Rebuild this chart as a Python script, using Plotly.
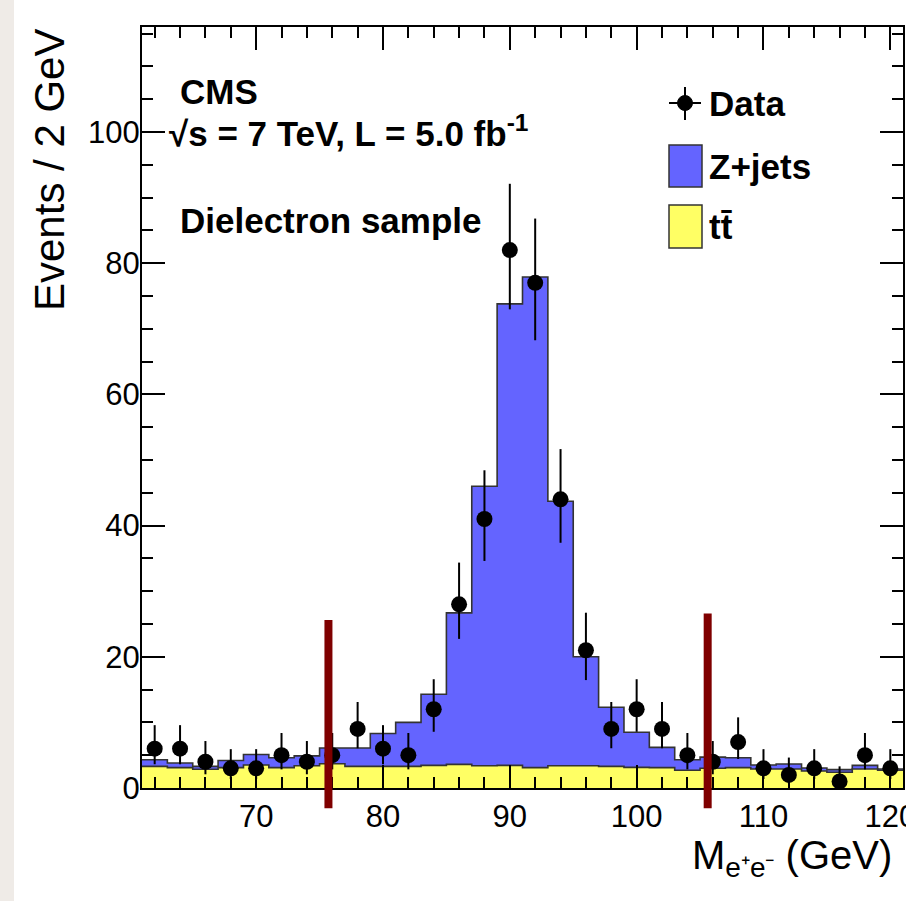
import plotly.graph_objects as go

# ---------------- data ----------------
bin_lo = [61, 63, 65, 67, 69, 71, 73, 75, 77, 79, 81, 83, 85, 87, 89,
          91, 93, 95, 97, 99, 101, 103, 105, 107, 109, 111, 113, 115, 117, 119]
bin_width = 2
mass_centers = [62, 64, 66, 68, 70, 72, 74, 76, 78, 80, 82, 84, 86, 88, 90,
                92, 94, 96, 98, 100, 102, 104, 106, 108, 110, 112, 114, 116, 118, 120]

ttbar = [3.3, 3.1, 2.85, 3.1, 3.5, 3.1, 3.4, 3.7, 3.3, 3.3,
         3.3, 3.45, 3.6, 3.4, 3.45, 3.1, 3.4, 3.4, 3.3, 3.15,
         3.1, 2.7, 3.0, 3.1, 2.9, 2.9, 2.6, 2.4, 2.9, 2.7]
zjets = [1.0, 0.7, 0.45, 1.1, 1.6, 1.5, 1.5, 2.4, 2.8, 5.0,
         6.7, 10.85, 23.1, 42.6, 70.35, 74.8, 40.3, 16.6, 9.0, 5.35,
         3.1, 1.6, 1.7, 1.5, 0.6, 0.75, 0.45, 0.4, 0.55, 0.2]
data = [6, 6, 4, 3, 3, 5, 4, 5, 9, 6,
        5, 12, 28, 41, 82, 77, 44, 21, 9, 12,
        9, 5, 4, 7, 3, 2, 3, 1, 5, 3]
err_up = [3.58, 3.58, 3.16, 2.92, 2.92, 3.38, 3.16, 3.38, 4.11, 3.58,
          3.38, 4.58, 6.36, 7.43, 10.1, 9.8, 7.66, 5.72, 4.11, 4.58,
          4.11, 3.38, 3.16, 3.77, 2.92, 2.64, 2.92, 2.30, 3.38, 2.92]
err_dn = [2.38, 2.38, 1.91, 1.63, 1.63, 2.16, 1.91, 2.16, 2.94, 2.38,
          2.16, 3.43, 5.27, 6.39, 9.04, 8.75, 6.62, 4.55, 2.94, 3.43,
          2.94, 2.16, 1.91, 2.58, 1.63, 1.29, 1.63, 0.83, 2.16, 1.63]

mass_window = [75.7, 105.6]        # vertical red lines (GeV)
window_line_top = [25.6, 26.6]     # events
window_line_bottom = -3.1          # events (extends below axis)

x_range = [61, 121]
y_range = [0, 116]
x_ticks = [70, 80, 90, 100, 110, 120]
y_ticks = [0, 20, 40, 60, 80, 100]

# ---------------- layout geometry ----------------
W, H = 906, 901
L, R, T, B = 142, 3, 27, 113
PW, PH = W - L - R, H - T - B


def px(xpix):
    return (xpix - L) / PW


def py(ypix):
    return (H - B - ypix) / PH


def dx(m):
    return (m - x_range[0]) / (x_range[1] - x_range[0])


def dy(v):
    return (v - y_range[0]) / (y_range[1] - y_range[0])


# step outlines
edges = bin_lo + [bin_lo[-1] + bin_width]
total = [a + b for a, b in zip(ttbar, zjets)]
step_total = total + [total[-1]]
step_tt = ttbar + [ttbar[-1]]

BLUE = "#6464ff"
YELLOW = "#ffff64"
OUT = "#333333"
FONT = "Liberation Sans"

fig = go.Figure()
fig.add_trace(go.Scatter(x=edges, y=step_total, mode="lines", line_shape="hv",
                         fill="tozeroy", fillcolor=BLUE,
                         line=dict(color=OUT, width=1.6), name="Z+jets",
                         showlegend=False, hoverinfo="skip"))
fig.add_trace(go.Scatter(x=edges, y=step_tt, mode="lines", line_shape="hv",
                         fill="tozeroy", fillcolor=YELLOW,
                         line=dict(color=OUT, width=1.6), name="tt̄",
                         showlegend=False, hoverinfo="skip"))
fig.add_trace(go.Scatter(x=mass_centers, y=data, mode="markers", name="Data",
                         marker=dict(color="black", size=16),
                         error_y=dict(type="data", symmetric=False, array=err_up,
                                      arrayminus=err_dn, color="black",
                                      thickness=2, width=0),
                         showlegend=False))

shapes = []
# left light strip of the page
shapes.append(dict(type="rect", xref="paper", yref="paper",
                   x0=px(0), x1=px(14), y0=py(H), y1=py(0),
                   fillcolor="#efebe7", line=dict(width=0), layer="below"))
# mass window lines
for m, top in zip(mass_window, window_line_top):
    shapes.append(dict(type="line", xref="paper", yref="paper",
                       x0=dx(m), x1=dx(m), y0=dy(window_line_bottom), y1=dy(top),
                       line=dict(color="#7f0000", width=8)))
# legend: data marker with cross
shapes.append(dict(type="line", xref="paper", yref="paper",
                   x0=px(669), x1=px(701), y0=py(103), y1=py(103),
                   line=dict(color="black", width=2)))
shapes.append(dict(type="line", xref="paper", yref="paper",
                   x0=px(685), x1=px(685), y0=py(87), y1=py(120),
                   line=dict(color="black", width=2)))
shapes.append(dict(type="circle", xref="paper", yref="paper",
                   x0=px(677.5), x1=px(692.5), y0=py(95.5), y1=py(110.5),
                   fillcolor="black", line=dict(color="black", width=1)))
# legend boxes
shapes.append(dict(type="rect", xref="paper", yref="paper",
                   x0=px(669), x1=px(702), y0=py(187), y1=py(145),
                   fillcolor=BLUE, line=dict(color=OUT, width=1.5)))
shapes.append(dict(type="rect", xref="paper", yref="paper",
                   x0=px(669), x1=px(702), y0=py(248), y1=py(205),
                   fillcolor=YELLOW, line=dict(color=OUT, width=1.5)))

bold = dict(family=FONT, size=35, color="black")
annotations = [
    dict(text="<b>CMS</b>", x=px(178), y=py(91), xanchor="left", yanchor="middle"),
    dict(text="<b>√s = 7 TeV, L = 5.0 fb<sup>-1</sup></b>", x=px(167), y=py(131),
         xanchor="left", yanchor="middle"),
    dict(text="<b>Dielectron sample</b>", x=px(178), y=py(220),
         xanchor="left", yanchor="middle"),
    dict(text="<b>Data</b>", x=px(707), y=py(103), xanchor="left", yanchor="middle"),
    dict(text="<b>Z+jets</b>", x=px(707), y=py(166), xanchor="left", yanchor="middle"),
    dict(text="<b>tt̄</b>", x=px(707), y=py(227), xanchor="left", yanchor="middle"),
]
for a in annotations:
    a.update(xref="paper", yref="paper", showarrow=False, font=bold)

annotations.append(dict(text="Events / 2 GeV", textangle=-90, x=px(49), y=py(170),
                        xref="paper", yref="paper", xanchor="center", yanchor="middle",
                        showarrow=False, font=dict(family=FONT, size=42, color="black")))
annotations.append(dict(text="M<sub>e⁺e⁻</sub> (GeV)", x=px(894), y=py(858),
                        xref="paper", yref="paper", xanchor="right", yanchor="middle",
                        showarrow=False, font=dict(family=FONT, size=40, color="black")))

axis_common = dict(showline=True, linecolor="black", linewidth=2, mirror="ticks",
                   ticks="inside", tickcolor="black", tickwidth=1.5, ticklen=23,
                   showgrid=False, zeroline=False, automargin=False,
                   tickfont=dict(family=FONT, size=31, color="black"))

fig.update_layout(
    width=W, height=H, autosize=False,
    margin=dict(l=L, r=R, t=T, b=B, pad=0, autoexpand=False),
    paper_bgcolor="white", plot_bgcolor="white",
    shapes=shapes, annotations=annotations,
    showlegend=False,
    xaxis=dict(range=x_range, tickvals=x_ticks, ticklabeloverflow="allow",
               minor=dict(dtick=2, tick0=60, ticks="inside", ticklen=11,
                          tickcolor="black", tickwidth=1.5),
               **axis_common),
    yaxis=dict(range=y_range, tickvals=y_ticks, ticklabelstandoff=-6,
               minor=dict(dtick=5, tick0=0, ticks="inside", ticklen=11,
                          tickcolor="black", tickwidth=1.5),
               **axis_common),
)

fig.write_html("out.html",
               config={"responsive": False, "displayModeBar": False},
               post_script="document.body.style.margin='0';"
                           "document.body.style.overflow='hidden';"
                           "document.documentElement.style.overflow='hidden';")
